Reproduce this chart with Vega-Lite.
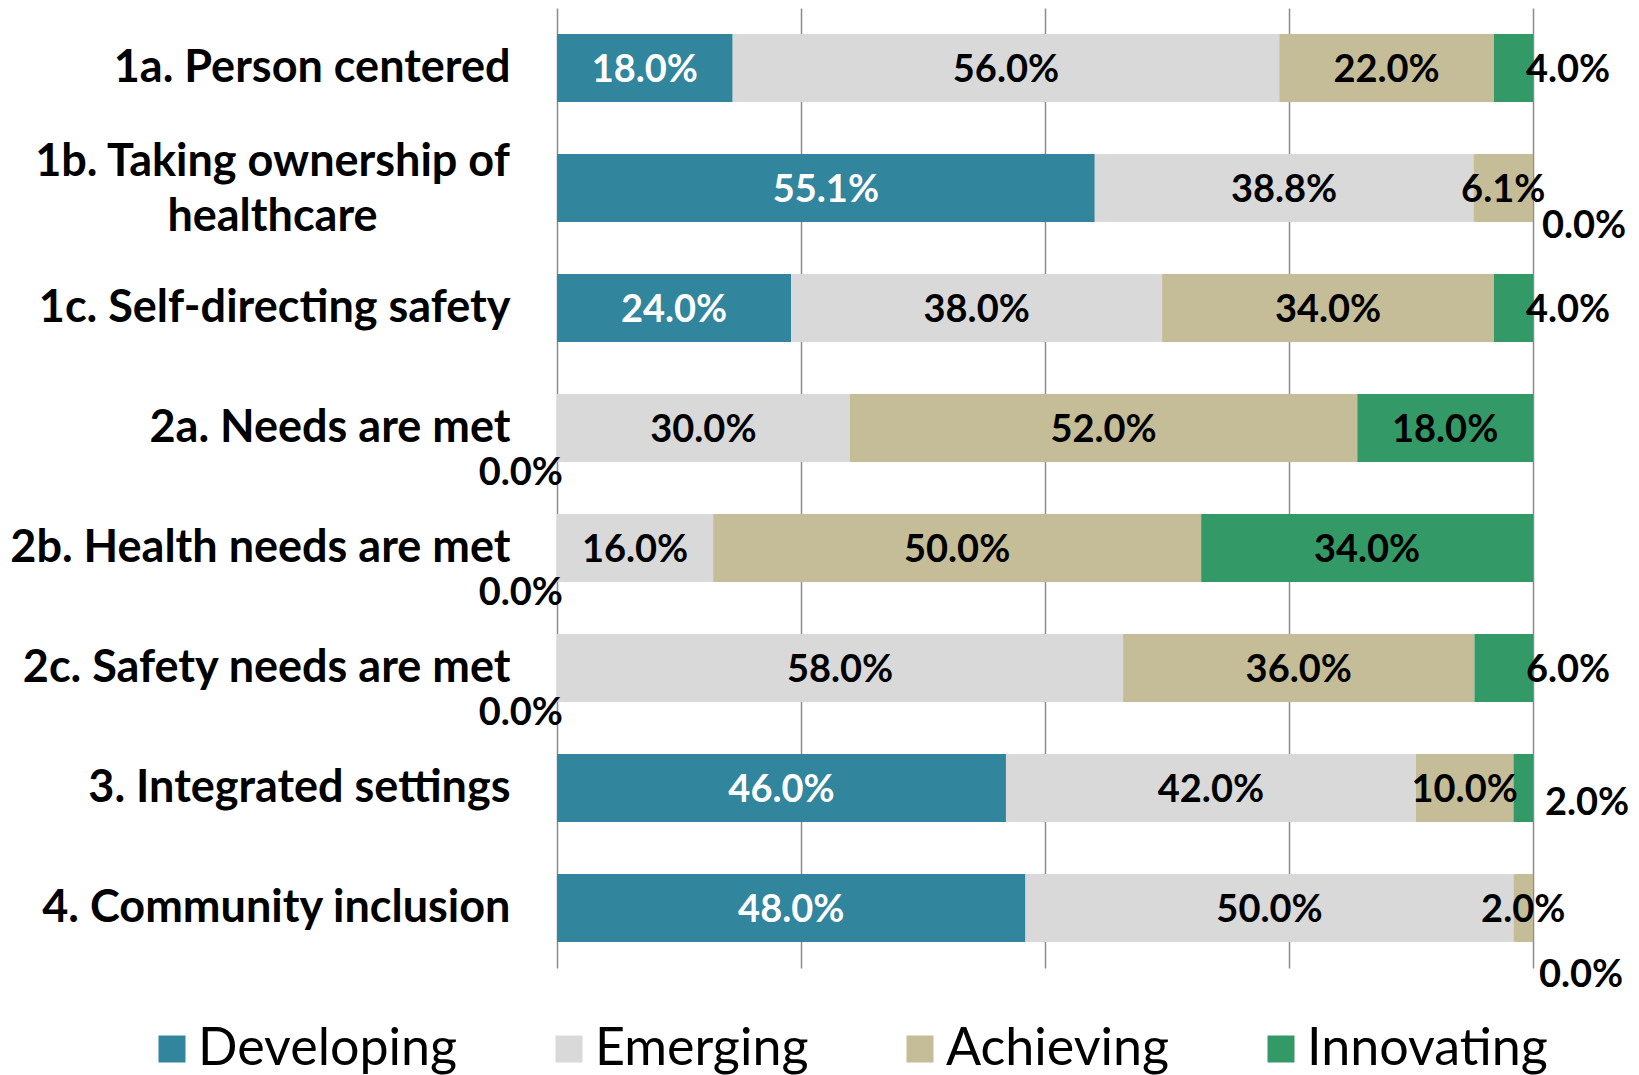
{
  "$schema": "https://vega.github.io/schema/vega-lite/v6.json",
  "autosize": {"type": "none"},
  "width": 976,
  "height": 960,
  "padding": {"left": 557, "top": 8, "right": 106, "bottom": 107},
  "background": "white",
  "config": {
    "view": {"stroke": null},
    "font": "Lato"
  },
  "data": {
    "values": [
      {"category": "1a. Person centered", "series": "Developing", "value": 18.0},
      {"category": "1a. Person centered", "series": "Emerging", "value": 56.0},
      {"category": "1a. Person centered", "series": "Achieving", "value": 22.0},
      {"category": "1a. Person centered", "series": "Innovating", "value": 4.0},
      {"category": "1b. Taking ownership of healthcare", "series": "Developing", "value": 55.1},
      {"category": "1b. Taking ownership of healthcare", "series": "Emerging", "value": 38.8},
      {"category": "1b. Taking ownership of healthcare", "series": "Achieving", "value": 6.1},
      {"category": "1b. Taking ownership of healthcare", "series": "Innovating", "value": 0.0},
      {"category": "1c. Self-directing safety", "series": "Developing", "value": 24.0},
      {"category": "1c. Self-directing safety", "series": "Emerging", "value": 38.0},
      {"category": "1c. Self-directing safety", "series": "Achieving", "value": 34.0},
      {"category": "1c. Self-directing safety", "series": "Innovating", "value": 4.0},
      {"category": "2a. Needs are met", "series": "Developing", "value": 0.0},
      {"category": "2a. Needs are met", "series": "Emerging", "value": 30.0},
      {"category": "2a. Needs are met", "series": "Achieving", "value": 52.0},
      {"category": "2a. Needs are met", "series": "Innovating", "value": 18.0},
      {"category": "2b. Health needs are met", "series": "Developing", "value": 0.0},
      {"category": "2b. Health needs are met", "series": "Emerging", "value": 16.0},
      {"category": "2b. Health needs are met", "series": "Achieving", "value": 50.0},
      {"category": "2b. Health needs are met", "series": "Innovating", "value": 34.0},
      {"category": "2c. Safety needs are met", "series": "Developing", "value": 0.0},
      {"category": "2c. Safety needs are met", "series": "Emerging", "value": 58.0},
      {"category": "2c. Safety needs are met", "series": "Achieving", "value": 36.0},
      {"category": "2c. Safety needs are met", "series": "Innovating", "value": 6.0},
      {"category": "3. Integrated settings", "series": "Developing", "value": 46.0},
      {"category": "3. Integrated settings", "series": "Emerging", "value": 42.0},
      {"category": "3. Integrated settings", "series": "Achieving", "value": 10.0},
      {"category": "3. Integrated settings", "series": "Innovating", "value": 2.0},
      {"category": "4. Community inclusion", "series": "Developing", "value": 48.0},
      {"category": "4. Community inclusion", "series": "Emerging", "value": 50.0},
      {"category": "4. Community inclusion", "series": "Achieving", "value": 2.0},
      {"category": "4. Community inclusion", "series": "Innovating", "value": 0.0}
    ]
  },
  "transform": [
    {"calculate": "indexof(['Developing','Emerging','Achieving','Innovating'], datum.series)", "as": "ord"},
    {"stack": "value", "groupby": ["category"], "sort": [{"field": "ord", "order": "ascending"}], "as": ["x0", "x1"]},
    {"calculate": "(datum.x0 + datum.x1) / 2", "as": "mid"},
    {"calculate": "format(datum.value, '.1f') + '%'", "as": "label"}
  ],
  "encoding": {
    "y": {
      "field": "category",
      "type": "nominal",
      "sort": null,
      "title": null,
      "scale": {"paddingInner": 0.433, "paddingOuter": 0.2165},
      "axis": {
        "domain": false,
        "ticks": false,
        "labelFont": "Lato",
        "labelFontWeight": "bold",
        "labelFontSize": 45,
        "labelColor": "#000000",
        "labelLimit": 0,
        "labelLineHeight": 55,
        "labelExpr": "datum.value === '1b. Taking ownership of healthcare' ? ['1b. Taking ownership of', 'healthcare'] : datum.label",
        "labelAlign": {"condition": {"test": "datum.value === '1b. Taking ownership of healthcare'", "value": "center"}, "value": "right"},
        "labelPadding": {"condition": {"test": "datum.value === '1b. Taking ownership of healthcare'", "value": 285}, "value": 47},
        "labelOffset": {"condition": {"test": "datum.value === '1b. Taking ownership of healthcare'", "value": -26}, "value": 0}
      }
    }
  },
  "layer": [
    {
      "mark": {"type": "bar"},
      "encoding": {
        "x": {
          "field": "x0",
          "type": "quantitative",
          "scale": {"domain": [0, 100], "nice": false},
          "title": null,
          "axis": {
            "values": [0, 25, 50, 75, 100],
            "labels": false,
            "ticks": false,
            "domain": false,
            "grid": true,
            "gridColor": "#8c8c8c",
            "gridWidth": 1.5
          }
        },
        "x2": {"field": "x1"},
        "color": {
          "field": "series",
          "type": "nominal",
          "scale": {
            "domain": ["Developing", "Emerging", "Achieving", "Innovating"],
            "range": ["#31859C", "#D9D9D9", "#C4BD97", "#339966"]
          },
          "legend": {
            "title": null,
            "orient": "none",
            "direction": "horizontal",
            "legendX": -411,
            "legendY": 1015,
            "symbolType": "square",
            "symbolSize": 729,
            "symbolStrokeWidth": 0,
            "labelFont": "Lato",
            "labelFontSize": 52,
            "labelColor": "#000000",
            "labelOffset": 0,
            "labelLimit": 0,
            "columnPadding": 85
          }
        }
      }
    },
    {
      "transform": [{"filter": "datum.value > 0 && !(datum.series === 'Innovating' && datum.value <= 6)"}],
      "mark": {"type": "text", "font": "Lato", "fontWeight": "bold", "fontSize": 38, "baseline": "middle", "align": "center", "dy": 3},
      "encoding": {
        "x": {"field": "mid", "type": "quantitative"},
        "text": {"field": "label"},
        "color": {
          "condition": {"test": "datum.series === 'Developing'", "value": "#ffffff"},
          "value": "#000000"
        }
      }
    },
    {
      "transform": [{"filter": "datum.series === 'Innovating' && datum.value > 2 && datum.value <= 6"}],
      "mark": {"type": "text", "font": "Lato", "fontWeight": "bold", "fontSize": 38, "baseline": "middle", "align": "left", "dx": -7, "dy": 3, "color": "#000000"},
      "encoding": {
        "x": {"field": "x1", "type": "quantitative"},
        "text": {"field": "label"}
      }
    },
    {
      "transform": [{"filter": "datum.series === 'Innovating' && datum.value > 0 && datum.value <= 2"}],
      "mark": {"type": "text", "font": "Lato", "fontWeight": "bold", "fontSize": 38, "baseline": "middle", "align": "left", "dx": 12, "dy": 16, "color": "#000000"},
      "encoding": {
        "x": {"field": "x1", "type": "quantitative"},
        "text": {"field": "label"}
      }
    },
    {
      "transform": [{"filter": "datum.series === 'Developing' && datum.value === 0"}],
      "mark": {"type": "text", "font": "Lato", "fontWeight": "bold", "fontSize": 38, "baseline": "middle", "align": "right", "dx": 6, "dy": 46, "color": "#000000"},
      "encoding": {
        "x": {"field": "x0", "type": "quantitative"},
        "text": {"field": "label"}
      }
    },
    {
      "transform": [{"filter": "datum.series === 'Innovating' && datum.value === 0 && datum.category === '1b. Taking ownership of healthcare'"}],
      "mark": {"type": "text", "font": "Lato", "fontWeight": "bold", "fontSize": 38, "baseline": "middle", "align": "left", "dx": 9, "dy": 39, "color": "#000000"},
      "encoding": {
        "x": {"field": "x1", "type": "quantitative"},
        "text": {"field": "label"}
      }
    },
    {
      "transform": [{"filter": "datum.series === 'Innovating' && datum.value === 0 && datum.category === '4. Community inclusion'"}],
      "mark": {"type": "text", "font": "Lato", "fontWeight": "bold", "fontSize": 38, "baseline": "middle", "align": "left", "dx": 6, "dy": 68, "color": "#000000"},
      "encoding": {
        "x": {"field": "x1", "type": "quantitative"},
        "text": {"field": "label"}
      }
    }
  ]
}
